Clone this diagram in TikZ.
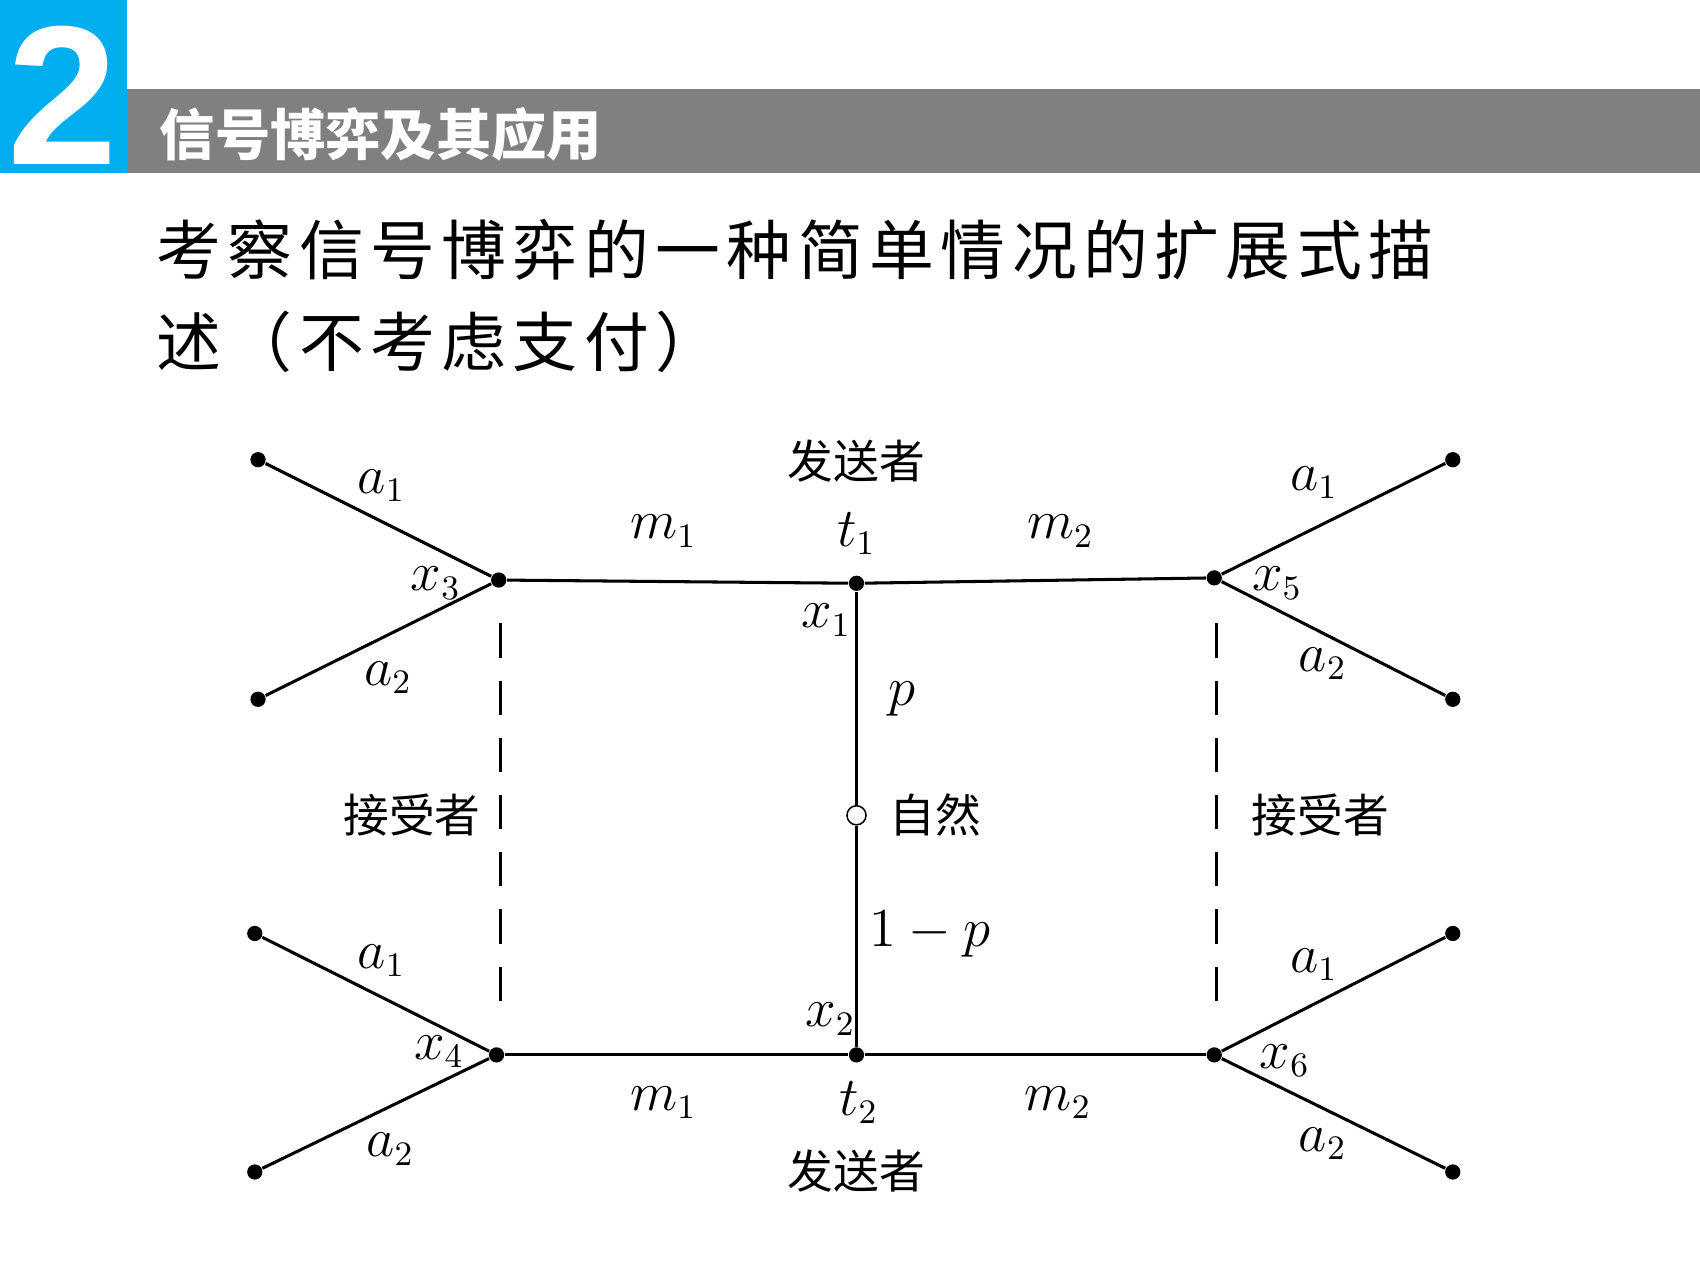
\documentclass[tikz,border=0pt]{standalone}
\usepackage{fontspec}
\newfontfamily\cjk{Noto Sans CJK SC}
\newfontfamily\cjksp[LetterSpace=10]{Noto Sans CJK SC}
\setsansfont{Liberation Sans}
\definecolor{hdrblue}{RGB}{0,174,239}
\begin{document}
\begin{tikzpicture}[x=0.01cm,y=-0.01cm,
  dot/.style={circle,fill,inner sep=0pt,minimum size=4pt},
  lbl/.style={font=\fontsize{13.5}{13.5}\selectfont},
  cn/.style={font=\cjk\fontsize{12}{12}\selectfont},
  ln/.style={line width=0.8pt}]
\useasboundingbox (0,0) rectangle (1568,1176);
\fill[white] (0,0) rectangle (1568,1176);
\fill[black!50] (117,82) rectangle (1568,160);
\fill[hdrblue] (0,0) rectangle (117,160);
\node[white,font=\sffamily\bfseries\fontsize{52}{52}\selectfont] (num) at (58,88) {2};
\node[white,anchor=west,font=\cjk\bfseries\fontsize{14.5}{14.5}\selectfont] (title) at (135,124) {信号博弈及其应用};
\node[anchor=west,font=\cjksp\fontsize{17}{17}\selectfont] (l1) at (132,230) {考察信号博弈的一种简单情况的扩展式描};
\node[anchor=west,font=\cjksp\fontsize{17}{17}\selectfont] (l2) at (132,315) {述（不考虑支付）};
% nodes
\node[dot] (L1) at (460,535) {};
\node[dot] (T1) at (790,538) {};
\node[dot] (R1) at (1120,533) {};
\node[dot] (L2) at (458,973) {};
\node[dot] (T2) at (790,973) {};
\node[dot] (R2) at (1120,973) {};
\node[circle,draw,fill=white,inner sep=0pt,minimum size=5pt] (N) at (790,752) {};
\foreach \n/\x/\y in {a/238/424,b/238/645,c/235/861,d/235/1081,e/1340/424,f/1340/645,g/1340/861,h/1340/1081}
  \node[dot] (\n) at (\x,\y) {};
\draw[ln] (L1)--(T1)--(R1);
\draw[ln] (L2)--(T2)--(R2);
\draw[ln] (T1)--(N)--(T2);
\draw[ln] (a)--(L1)--(b);
\draw[ln] (c)--(L2)--(d);
\draw[ln] (e)--(R1)--(f);
\draw[ln] (g)--(R2)--(h);
\coordinate (d1) at (462,575); \coordinate (d2) at (462,930);
\coordinate (d3) at (1122,575); \coordinate (d4) at (1122,930);
\draw[ln,dash pattern=on 9pt off 6pt] (d1)--(d2);
\draw[ln,dash pattern=on 9pt off 6pt] (d3)--(d4);
% labels
\node[cn] (s1) at (790,425) {发送者};
\node[cn] (s2) at (790,1080) {发送者};
\node[cn] (r1) at (380,752) {接受者};
\node[cn] (r2) at (1218,752) {接受者};
\node[cn,anchor=west] (nat) at (808,752) {自然};
\node[lbl] at (352,448) {$a_1$};
\node[lbl] at (358,625) {$a_2$};
\node[lbl] at (402,538) {$x_3$};
\node[lbl] at (352,886) {$a_1$};
\node[lbl] at (405,970) {$x_4$};
\node[lbl] at (360,1060) {$a_2$};
\node[lbl] at (1212,445) {$a_1$};
\node[lbl] at (1220,612) {$a_2$};
\node[lbl] at (1178,538) {$x_5$};
\node[lbl] at (1212,890) {$a_1$};
\node[lbl] at (1185,978) {$x_6$};
\node[lbl] at (1220,1055) {$a_2$};
\node[lbl] at (612,490) {$m_1$};
\node[lbl] at (978,490) {$m_2$};
\node[lbl] at (612,1017) {$m_1$};
\node[lbl] at (976,1017) {$m_2$};
\node[lbl] at (790,492) {$t_1$};
\node[lbl] at (792,1017) {$t_2$};
\node[lbl] at (762,572) {$x_1$};
\node[lbl] at (766,940) {$x_2$};
\node[lbl] at (832,645) {$p$};
\node[lbl] at (858,862) {$1-p$};
\end{tikzpicture}
\end{document}
